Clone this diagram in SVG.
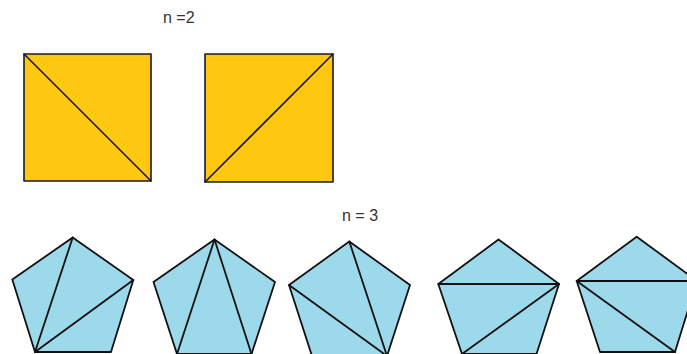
<svg xmlns="http://www.w3.org/2000/svg" width="687" height="354" viewBox="0 0 687 354">
<style>
.sq{fill:#fec810;stroke:#1a1a2e;stroke-width:1.6;stroke-linejoin:round}
.pg{fill:#9cd9ea;stroke:#111;stroke-width:1.8;stroke-linejoin:round}
.dg{fill:none;stroke:#111;stroke-width:1.8;stroke-linecap:round}
.dq{fill:none;stroke:#1a1a2e;stroke-width:1.6;stroke-linecap:round}
.lb{font-family:"Liberation Sans",Arial,sans-serif;font-size:16px;fill:#333}
</style>
<rect width="687" height="354" fill="#fff"/>
<text class="lb" x="163" y="23">n =2</text>
<text class="lb" x="342" y="221">n = 3</text>
<g id="square1">
<rect class="sq" x="24" y="54" width="127" height="127"/>
<line class="dq" x1="24" y1="54" x2="151" y2="181"/>
</g>
<g id="square2">
<rect class="sq" x="205" y="54" width="128" height="128"/>
<line class="dq" x1="205" y1="182" x2="333" y2="54"/>
</g>
<g id="pentagon1">
<polygon class="pg" points="72.7,237.5 133.3,280 111,352 35,352 12.3,279.5"/>
<line class="dg" x1="35" y1="352" x2="72.7" y2="237.5"/>
<line class="dg" x1="35" y1="352" x2="133.3" y2="280"/>
</g>
<g id="pentagon2">
<polygon class="pg" points="214.5,239.5 275,282 251.5,354 177,354 153.5,282"/>
<line class="dg" x1="214.5" y1="239.5" x2="177" y2="354"/>
<line class="dg" x1="214.5" y1="239.5" x2="251.5" y2="354"/>
</g>
<g id="pentagon3">
<polygon class="pg" points="349.3,241.5 410,285 387,356 312,356 289,285"/>
<line class="dg" x1="387" y1="356" x2="349.3" y2="241.5"/>
<line class="dg" x1="387" y1="356" x2="289" y2="285"/>
</g>
<g id="pentagon4">
<polygon class="pg" points="498.5,239.5 559,284 536.5,354 462,354 438.3,284"/>
<line class="dg" x1="438.3" y1="284" x2="559" y2="284"/>
<line class="dg" x1="559" y1="284" x2="462" y2="354"/>
</g>
<g id="pentagon5">
<polygon class="pg" points="636.7,236.7 697,281 675,352 600,352 576.7,281"/>
<line class="dg" x1="576.7" y1="281" x2="697" y2="281"/>
<line class="dg" x1="576.7" y1="281" x2="675" y2="352"/>
</g>
<g id="connectors"></g>
</svg>
